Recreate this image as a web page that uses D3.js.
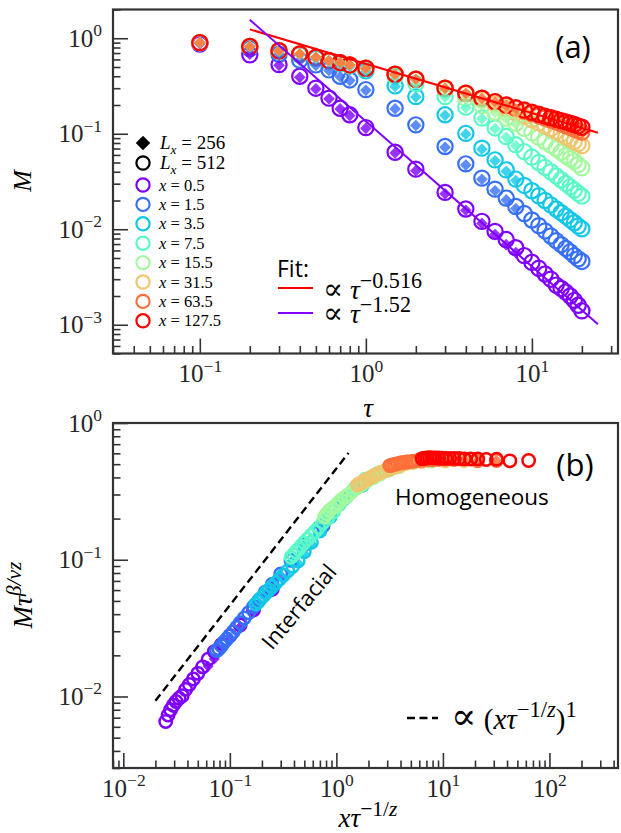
<!DOCTYPE html>
<html>
<head>
<meta charset="utf-8">
<script src="https://cdn.jsdelivr.net/npm/d3@7"></script>
<style>
  body { margin: 0; background: #fff; }
</style>
</head>
<body>
<script>
// ---- data ----
const tau = [0.1, 0.2, 0.3, 0.4, 0.5, 0.6, 0.7, 0.8, 1, 1.5, 2, 3, 4, 5, 6, 7, 8,
             9, 10, 11, 12, 13, 14, 15, 16, 17, 18, 19, 20];
const tau256 = [0.1, 0.2, 0.3, 0.4, 0.5, 0.6, 0.7, 0.8, 1, 1.5, 2, 3, 4, 5, 6, 7, 8];
const xLabels = ["0.5", "1.5", "3.5", "7.5", "15.5", "31.5", "63.5", "127.5"];
const xVals = [0.5, 1.5, 3.5, 7.5, 15.5, 31.5, 63.5, 127.5];
const colors = ["#8000ff", "#376ff9", "#12c8e6", "#5bf9c7", "#a4f99f", "#edc76f", "#ff6f39", "#ff0000"];

// M for L_x = 512 (open circles)
const m512_0p5 = [0.87, 0.67, 0.53, 0.40, 0.30, 0.236, 0.185, 0.158, 0.116, 0.064, 0.0426, 0.0243, 0.0163, 0.0121, 0.0095, 0.0078, 0.0064,
                  0.0053, 0.0045, 0.0039, 0.0034, 0.0030, 0.0026, 0.0024, 0.0022, 0.0020, 0.0018, 0.0016, 0.0014];
const m512_1p5 = [0.89, 0.78, 0.68, 0.59, 0.526, 0.466, 0.40, 0.366, 0.29, 0.185, 0.124, 0.0735, 0.0484, 0.0343, 0.0263, 0.0212, 0.0173,
                  0.0146, 0.0125, 0.0109, 0.0096, 0.0085, 0.0076, 0.0069, 0.0063, 0.0058, 0.0053, 0.0049, 0.0046];
const m512_3p5 = [0.9, 0.81, 0.73, 0.67, 0.615, 0.575, 0.54, 0.51, 0.455, 0.317, 0.245, 0.158, 0.101, 0.0707, 0.0533, 0.0419, 0.0335,
                  0.0288, 0.0253, 0.0224, 0.0200, 0.0180, 0.0163, 0.0149, 0.0137, 0.0126, 0.0117, 0.0108, 0.0101];
const m512_7p5 = [0.9, 0.82, 0.74, 0.68, 0.63, 0.58, 0.55, 0.52, 0.48, 0.40, 0.335, 0.245, 0.19, 0.146, 0.115, 0.0935, 0.0766,
                  0.065, 0.057, 0.050, 0.0445, 0.040, 0.0362, 0.033, 0.0302, 0.0278, 0.0257, 0.0238, 0.0222];
const m512_15p5 = [0.9, 0.82, 0.74, 0.685, 0.632, 0.583, 0.556, 0.526, 0.485, 0.418, 0.368, 0.292, 0.235, 0.197, 0.168, 0.146, 0.129,
                   0.114, 0.102, 0.092, 0.083, 0.076, 0.070, 0.064, 0.059, 0.055, 0.0515, 0.0475, 0.044];
const m512_31p5 = [0.9, 0.82, 0.74, 0.685, 0.632, 0.583, 0.556, 0.526, 0.485, 0.42, 0.372, 0.30, 0.262, 0.228, 0.205, 0.185, 0.166,
                   0.152, 0.140, 0.130, 0.121, 0.113, 0.106, 0.099, 0.093, 0.088, 0.083, 0.079, 0.075];
const m512_63p5 = [0.9, 0.82, 0.74, 0.685, 0.632, 0.583, 0.556, 0.526, 0.485, 0.42, 0.372, 0.30, 0.266, 0.236, 0.216, 0.198, 0.184,
                   0.173, 0.163, 0.154, 0.146, 0.139, 0.133, 0.127, 0.122, 0.117, 0.112, 0.108, 0.104];
const m512_127p5 = [0.9, 0.82, 0.74, 0.685, 0.632, 0.583, 0.556, 0.526, 0.485, 0.42, 0.372, 0.30, 0.266, 0.236, 0.217, 0.200, 0.187,
                    0.177, 0.168, 0.160, 0.153, 0.147, 0.142, 0.137, 0.133, 0.129, 0.125, 0.121, 0.117];

// M for L_x = 256 (filled diamonds), no x = 127.5
const m256_0p5 = [0.88, 0.68, 0.52, 0.39, 0.295, 0.232, 0.182, 0.155, 0.114, 0.063, 0.041, 0.0235, 0.0158, 0.0115, 0.0088, 0.0069, 0.0057];
const m256_1p5 = [0.89, 0.78, 0.68, 0.585, 0.52, 0.46, 0.395, 0.36, 0.285, 0.182, 0.122, 0.072, 0.047, 0.0333, 0.0253, 0.0203, 0.0165];
const m256_3p5 = [0.9, 0.81, 0.73, 0.67, 0.61, 0.57, 0.535, 0.505, 0.45, 0.313, 0.242, 0.156, 0.099, 0.069, 0.052, 0.0405, 0.0323];
const m256_7p5 = [0.9, 0.82, 0.74, 0.68, 0.628, 0.578, 0.548, 0.518, 0.478, 0.398, 0.332, 0.243, 0.188, 0.144, 0.113, 0.092, 0.075];
const m256_15p5 = [0.9, 0.82, 0.74, 0.685, 0.63, 0.582, 0.555, 0.525, 0.483, 0.416, 0.366, 0.29, 0.233, 0.195, 0.166, 0.144, 0.127];
const m256_31p5 = [0.9, 0.82, 0.74, 0.685, 0.63, 0.582, 0.555, 0.525, 0.484, 0.418, 0.37, 0.298, 0.26, 0.226, 0.203, 0.183, 0.164];
const m256_63p5 = [0.9, 0.82, 0.74, 0.685, 0.632, 0.583, 0.556, 0.526, 0.485, 0.42, 0.372, 0.30, 0.265, 0.235, 0.215, 0.197, 0.182];

// power-law fits in (a), scaling exponents and guide line in (b)
const fitRange = [0.2, 25];
const fitRed = { amp: 0.54, exp: -0.516 };
const fitPurple = { amp: 0.135, exp: -1.52 };
const betaNuZ = 0.516;
const invZ = 1.0;
const tauMinCollapse = 2;
const guideRange = [0.02, 1.3];
const guideAmp = 0.465;

const m512 = [m512_0p5, m512_1p5, m512_3p5, m512_7p5, m512_15p5, m512_31p5, m512_63p5, m512_127p5];
const m256 = [m256_0p5, m256_1p5, m256_3p5, m256_7p5, m256_15p5, m256_31p5, m256_63p5];

// ---- layout ----
const W = 621, H = 833;
const serif = "'Liberation Serif', 'DejaVu Serif', serif";
const sans = "'Open Sans', 'DejaVu Sans', sans-serif";
const boxA = { left: 113, right: 618, top: 9.5, bottom: 353.5 };
const boxB = { left: 113, right: 618, top: 423, bottom: 768 };

const svg = d3.select("body").append("svg")
  .attr("width", W).attr("height", H)
  .style("font-family", serif);

const xA = d3.scaleLog().domain([0.03, 33]).range([boxA.left, boxA.right]);
const yA = d3.scaleLog().domain([5e-4, 2]).range([boxA.bottom, boxA.top]);
const xB = d3.scaleLog().domain([0.008, 440]).range([boxB.left, boxB.right]);
const yB = d3.scaleLog().domain([3e-3, 1]).range([boxB.bottom, boxB.top]);

// text with super/subscripts; p.k scales one piece
function rich(text, parts, base, ratio) {
  ratio = ratio || 0.7;
  let shift = 0;
  parts.forEach(p => {
    const target = p.sup ? -base * 0.42 : p.sub ? base * 0.28 : 0;
    const ts = text.append("tspan").text(p.t);
    if (target - shift !== 0) ts.attr("dy", target - shift);
    shift = target;
    if (p.sup || p.sub) ts.attr("font-size", base * ratio);
    if (p.k) ts.attr("font-size", base * p.k);
    if (p.it) ts.attr("font-style", "italic");
  });
  return text;
}

function powLabel(v) {
  const e = Math.round(Math.log10(v));
  return [{ t: "10" }, { t: (e < 0 ? "\u2212" : "") + Math.abs(e), sup: true }];
}

function minorTicks(s) {
  return s.ticks().filter(v => Math.abs(Math.log10(v) - Math.round(Math.log10(v))) > 1e-6);
}

function drawAxes(x, y, box) {
  const g = svg.append("g").attr("color", "#333");
  const fs = 25;

  g.append("g").attr("transform", "translate(0," + box.bottom + ")")
    .call(d3.axisBottom(x).tickValues(minorTicks(x)).tickSize(-7.5).tickFormat(""));
  g.append("g").attr("transform", "translate(" + box.left + ",0)")
    .call(d3.axisLeft(y).tickValues(minorTicks(y)).tickSize(-7.5).tickFormat(""));

  const majX = x.ticks().filter(v => minorTicks(x).indexOf(v) < 0);
  const majY = y.ticks().filter(v => minorTicks(y).indexOf(v) < 0);

  const gx = g.append("g").attr("transform", "translate(0," + box.bottom + ")")
    .call(d3.axisBottom(x).tickValues(majX).tickSize(-15).tickPadding(11).tickFormat(() => ""));
  const gy = g.append("g").attr("transform", "translate(" + box.left + ",0)")
    .call(d3.axisLeft(y).tickValues(majY).tickSize(-15).tickPadding(11).tickFormat(() => ""));

  [gx, gy].forEach(a => {
    a.selectAll(".tick text").each(function (d) {
      rich(d3.select(this).attr("font-size", fs).attr("font-family", serif).attr("fill", "#262626"), powLabel(d), fs);
    });
  });
  g.selectAll(".domain").remove();
  g.selectAll(".tick line").attr("stroke-width", 1.6);

  svg.append("rect")
    .attr("x", box.left).attr("y", box.top)
    .attr("width", box.right - box.left).attr("height", box.bottom - box.top)
    .attr("fill", "none").attr("stroke", "#333").attr("stroke-width", 2.2);
}

const diamond = d3.symbol().type(d3.symbolSquare);

// ================= panel (a) =================
const gA = svg.append("g");

// open circles L_x = 512
m512.forEach((vals, i) => {
  gA.append("g").selectAll("circle")
    .data(vals.map((m, j) => [tau[j], m]))
    .enter().append("circle")
    .attr("cx", d => xA(d[0]))
    .attr("cy", d => yA(d[1]))
    .attr("r", 7.6)
    .attr("fill", "none")
    .attr("stroke", colors[i])
    .attr("stroke-width", 2.2);
});

// filled diamonds L_x = 256
m256.forEach((vals, i) => {
  gA.append("g").selectAll("path")
    .data(vals.map((m, j) => [tau256[j], m]))
    .enter().append("path")
    .attr("d", diamond.size(68))
    .attr("transform", d => "translate(" + xA(d[0]) + "," + yA(d[1]) + ") rotate(45)")
    .attr("fill", colors[i])
    .attr("fill-opacity", 0.8);
});

// fit lines
const lineA = d3.line().x(d => xA(d[0])).y(d => yA(d[1]));
[[fitRed, colors[7]], [fitPurple, colors[0]]].forEach(([f, c]) => {
  gA.append("path")
    .datum(fitRange.map(t => [t, f.amp * Math.pow(t, f.exp)]))
    .attr("d", lineA)
    .attr("fill", "none")
    .attr("stroke", c)
    .attr("stroke-width", 2);
});

drawAxes(xA, yA, boxA);

// legend (a)
const legA = svg.append("g");
legA.append("path").attr("d", diamond.size(105)).attr("transform", "translate(143,143) rotate(45)").attr("fill", "#000");
rich(legA.append("text").attr("x", 160).attr("y", 149).attr("font-size", 19),
  [{ t: "L", it: true }, { t: "x", it: true, sub: true }, { t: " = 256" }], 19);
legA.append("circle").attr("cx", 143).attr("cy", 163).attr("r", 6.6).attr("fill", "none").attr("stroke", "#000").attr("stroke-width", 2.2);
rich(legA.append("text").attr("x", 160).attr("y", 169).attr("font-size", 19),
  [{ t: "L", it: true }, { t: "x", it: true, sub: true }, { t: " = 512" }], 19);

xLabels.forEach((lab, i) => {
  const cy = 185 + i * 19.4;
  legA.append("circle").attr("cx", 143).attr("cy", cy).attr("r", 6.6)
    .attr("fill", "none").attr("stroke", colors[i]).attr("stroke-width", 2.2);
  rich(legA.append("text").attr("x", 159).attr("y", cy + 5.5).attr("font-size", 16.5),
    [{ t: "x", it: true }, { t: " = " + lab }], 16.5);
});

legA.append("text").attr("x", 277).attr("y", 277).attr("font-family", sans).attr("font-size", 23).text("Fit:");
[[fitRed, colors[7], 288, 299], [fitPurple, colors[0], 313, 323]].forEach(([f, c, ly, ty]) => {
  legA.append("line").attr("x1", 278).attr("x2", 313).attr("y1", ly).attr("y2", ly)
    .attr("stroke", c).attr("stroke-width", 2.2);
  rich(legA.append("text").attr("x", 323).attr("y", ty).attr("font-size", 26),
    [{ t: "\u221d", k: 1.15 }, { t: " \u03c4", it: true, k: 1.05 }, { t: "\u2212" + Math.abs(f.exp), sup: true }], 26, 0.85);
});

svg.append("text").attr("x", 573).attr("y", 58).attr("text-anchor", "middle")
  .attr("font-family", sans).attr("font-size", 31).text("(a)");

svg.append("text").attr("transform", "translate(31,181) rotate(-90)").attr("text-anchor", "middle")
  .attr("font-size", 26).attr("font-style", "italic").text("M");
svg.append("text").attr("x", 368).attr("y", 417).attr("text-anchor", "middle")
  .attr("font-size", 27).attr("font-style", "italic").text("\u03c4");

// ================= panel (b) =================
const gB = svg.append("g");
const collapse = (t, x, m) => [x * Math.pow(t, -invZ), m * Math.pow(t, betaNuZ)];

m256.forEach((vals, i) => {
  gB.append("g").selectAll("path")
    .data(vals.map((m, j) => [tau256[j], m]).filter(d => d[0] >= tauMinCollapse).map(d => collapse(d[0], xVals[i], d[1])))
    .enter().append("path")
    .attr("d", diamond.size(60))
    .attr("transform", d => "translate(" + xB(d[0]) + "," + yB(d[1]) + ") rotate(45)")
    .attr("fill", colors[i])
    .attr("fill-opacity", 0.85);
});

m512.forEach((vals, i) => {
  gB.append("g").selectAll("circle")
    .data(vals.map((m, j) => [tau[j], m]).filter(d => d[0] >= tauMinCollapse).map(d => collapse(d[0], xVals[i], d[1])))
    .enter().append("circle")
    .attr("cx", d => xB(d[0]))
    .attr("cy", d => yB(d[1]))
    .attr("r", 6.2)
    .attr("fill", "none")
    .attr("stroke", colors[i])
    .attr("stroke-width", 2.5);
});

gB.append("path")
  .datum(guideRange.map(v => [v, guideAmp * v]))
  .attr("d", d3.line().x(d => xB(d[0])).y(d => yB(d[1])))
  .attr("fill", "none").attr("stroke", "#000").attr("stroke-width", 2.4)
  .attr("stroke-dasharray", "8,4.5");

drawAxes(xB, yB, boxB);

svg.append("text").attr("x", 575).attr("y", 476).attr("text-anchor", "middle")
  .attr("font-family", sans).attr("font-size", 31).text("(b)");
svg.append("text").attr("x", 395).attr("y", 505)
  .attr("font-family", sans).attr("font-size", 22.5).text("Homogeneous");
svg.append("text").attr("transform", "translate(298,606) rotate(-50)").attr("text-anchor", "middle")
  .attr("dominant-baseline", "central")
  .attr("font-family", sans).attr("font-size", 22).text("Interfacial");

// legend (b)
svg.append("line").attr("x1", 407).attr("x2", 438).attr("y1", 718).attr("y2", 718)
  .attr("stroke", "#000").attr("stroke-width", 2.4).attr("stroke-dasharray", "8,4.5");
rich(svg.append("text").attr("x", 451).attr("y", 729).attr("font-size", 29),
  [{ t: "\u221d", k: 1.3 }, { t: " (" }, { t: "x\u03c4", it: true }, { t: "\u22121/", sup: true }, { t: "z", sup: true, it: true },
   { t: ")" }, { t: "1", sup: true }], 29, 0.78);

// axis titles (b)
rich(svg.append("text").attr("transform", "translate(32,595) rotate(-90)").attr("text-anchor", "middle").attr("font-size", 27),
  [{ t: "M\u03c4", it: true }, { t: "\u03b2/\u03bdz", sup: true, it: true }], 27, 0.8);
rich(svg.append("text").attr("x", 368).attr("y", 827).attr("text-anchor", "middle").attr("font-size", 27),
  [{ t: "x\u03c4", it: true }, { t: "\u22121/", sup: true }, { t: "z", sup: true, it: true }], 27, 0.8);
</script>
</body>
</html>
